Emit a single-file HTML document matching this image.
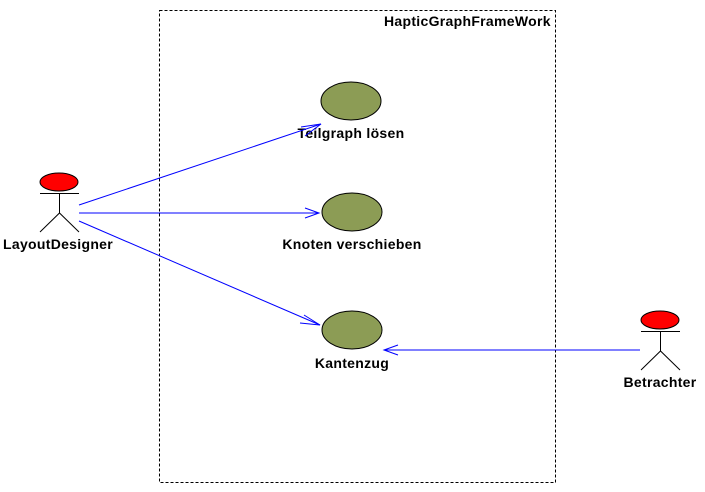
<!DOCTYPE html>
<html><head><style>body{margin:0;background:#fff}svg{display:block}text{font-family:"Liberation Sans",sans-serif;font-size:14px;font-weight:bold;fill:#000;letter-spacing:0.3px}</style></head><body>
<svg width="705" height="492" viewBox="0 0 705 492">
<rect x="159.5" y="10.5" width="396" height="472" fill="none" stroke="#000" stroke-dasharray="3,2"/>
<text x="384" y="26">HapticGraphFrameWork</text>
<g fill="#8c9c55" stroke="#000" stroke-width="1">
<ellipse cx="351" cy="101" rx="30" ry="19"/>
<ellipse cx="352" cy="212" rx="30" ry="19"/>
<ellipse cx="352" cy="330" rx="30" ry="19"/>
</g>
<text x="351" y="138" text-anchor="middle">Teilgraph lösen</text>
<text x="352" y="249" text-anchor="middle">Knoten verschieben</text>
<text x="352" y="368" text-anchor="middle">Kantenzug</text>
<g stroke="#00f" fill="none" stroke-width="1">
<line x1="79" y1="205" x2="321" y2="124"/><polyline points="301,127 321,124 305,136"/>
<line x1="79" y1="213" x2="319" y2="213"/><polyline points="305,208 319,213 305,218"/>
<line x1="79" y1="221" x2="320" y2="325"/><polyline points="304,315 320,325 300,323"/>
<line x1="640" y1="350" x2="384" y2="350"/><polyline points="398,345 384,350 398,355"/>
</g>
<g stroke="#000" stroke-width="1">
<ellipse cx="59" cy="182" rx="19" ry="9" fill="#f00"/>
<line x1="40" y1="193.5" x2="79" y2="193.5"/><line x1="59.5" y1="193" x2="59.5" y2="213"/>
<polyline points="40,232 59.5,213 79,232" fill="none"/>
<ellipse cx="660" cy="320" rx="19" ry="9" fill="#f00"/>
<line x1="641" y1="331.5" x2="680" y2="331.5"/><line x1="660.5" y1="331" x2="660.5" y2="351"/>
<polyline points="641,370 660.5,351 680,370" fill="none"/>
</g>
<text x="58" y="249" text-anchor="middle">LayoutDesigner</text>
<text x="660" y="387" text-anchor="middle">Betrachter</text>
</svg></body></html>
